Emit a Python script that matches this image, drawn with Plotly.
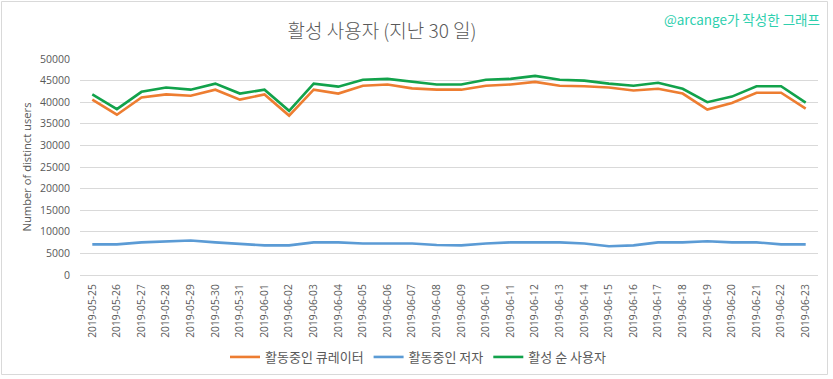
import plotly.graph_objects as go

dates = ["2019-05-25","2019-05-26","2019-05-27","2019-05-28","2019-05-29","2019-05-30","2019-05-31",
         "2019-06-01","2019-06-02","2019-06-03","2019-06-04","2019-06-05","2019-06-06","2019-06-07",
         "2019-06-08","2019-06-09","2019-06-10","2019-06-11","2019-06-12","2019-06-13","2019-06-14",
         "2019-06-15","2019-06-16","2019-06-17","2019-06-18","2019-06-19","2019-06-20","2019-06-21",
         "2019-06-22","2019-06-23"]

curators = [40600, 37100, 41100, 41800, 41500, 42900, 40600, 41800, 36900, 42900,
            42000, 43800, 44100, 43200, 42900, 42900, 43800, 44100, 44700, 43800,
            43700, 43400, 42700, 43100, 42000, 38300, 39800, 42200, 42200, 38500]

authors = [7100, 7100, 7550, 7800, 8000, 7550, 7250, 6850, 6850, 7550,
           7550, 7300, 7300, 7300, 6950, 6850, 7300, 7550, 7550, 7550,
           7300, 6650, 6850, 7550, 7550, 7800, 7550, 7550, 7100, 7100]

active = [41800, 38400, 42400, 43400, 42900, 44300, 42000, 42900, 38000, 44300,
          43600, 45200, 45400, 44700, 44100, 44100, 45200, 45400, 46100, 45200,
          45000, 44300, 43800, 44500, 43100, 40000, 41300, 43700, 43700, 39900]

series_names = ["활동중인 큐레이터", "활동중인 저자", "활성 순 사용자"]
series_colors = ["#ED7D31", "#5B9BD5", "#12A24B"]
y_ticks = [0, 5000, 10000, 15000, 20000, 25000, 30000, 35000, 40000, 45000, 50000]
y_tick_text = [str(v) for v in y_ticks]

FONT = "Noto Sans CJK KR"
LATIN = "Open Sans"
GRAY = "#595959"

fig = go.Figure()
for name, vals, col in zip(series_names, [curators, authors, active], series_colors):
    fig.add_trace(go.Scatter(x=dates, y=vals, mode="lines", name=name,
                             line=dict(color=col, width=2.6)))

W, H = 833, 379
ml, mr, mt, mb = 80, 15, 59, 104
pw, ph = W - ml - mr, H - mt - mb

fig.update_layout(
    width=W, height=H,
    margin=dict(l=ml, r=mr, t=mt, b=mb, autoexpand=False),
    paper_bgcolor="white", plot_bgcolor="white",
    font=dict(family=FONT, color=GRAY, size=11),
    title=dict(text="활성 사용자 (지난 30 일)", x=382 / W, xanchor="center",
               y=1 - 31 / H, yanchor="middle",
               font=dict(size=19, color=GRAY, family=FONT, weight=300)),
    showlegend=True,
    legend=dict(orientation="h", x=(418 - ml) / pw, xanchor="center",
                y=-(357 - (H - mb)) / ph, yanchor="middle",
                font=dict(size=13, color=GRAY, family=FONT),
                itemwidth=30, tracegroupgap=0),
    xaxis=dict(type="category", showgrid=False, tickangle=-90, automargin=False,
               tickfont=dict(size=10.3, color=GRAY, family=LATIN),
               showline=True, linecolor="#D9D9D9", linewidth=1, ticks="",
               ticklabelstandoff=4,
               range=[-0.5, len(dates) - 0.5]),
    yaxis=dict(range=[0, 50000], tickvals=y_ticks, ticktext=y_tick_text,
               showgrid=True, automargin=False,
               gridcolor="#D9D9D9", gridwidth=1, zeroline=False, ticks="",
               ticklabelstandoff=9,
               tickfont=dict(size=10.5, color=GRAY, family=LATIN),
               title=dict(text="Number of distinct users", standoff=6,
                          font=dict(size=11.2, color=GRAY, family=LATIN))),
    annotations=[dict(text="@arcange가 작성한 그래프", xref="paper", yref="paper",
                      x=(822 - ml) / pw, y=(H - mb - 19) / ph, xanchor="right", yanchor="middle",
                      showarrow=False, font=dict(size=13.5, color="#2ECFAE", family=FONT))],
    shapes=[dict(type="rect", xref="paper", yref="paper",
                 x0=(1.5 - ml) / pw, x1=(827.5 - ml) / pw,
                 y0=(H - mb - 374.5) / ph, y1=(H - mb - 1.5) / ph,
                 line=dict(color="#D9D9D9", width=1), layer="below")],
)

fig.write_html("out.html", config={"displayModeBar": False},
               post_script="document.body.style.margin='0';document.body.style.overflow='hidden';")
